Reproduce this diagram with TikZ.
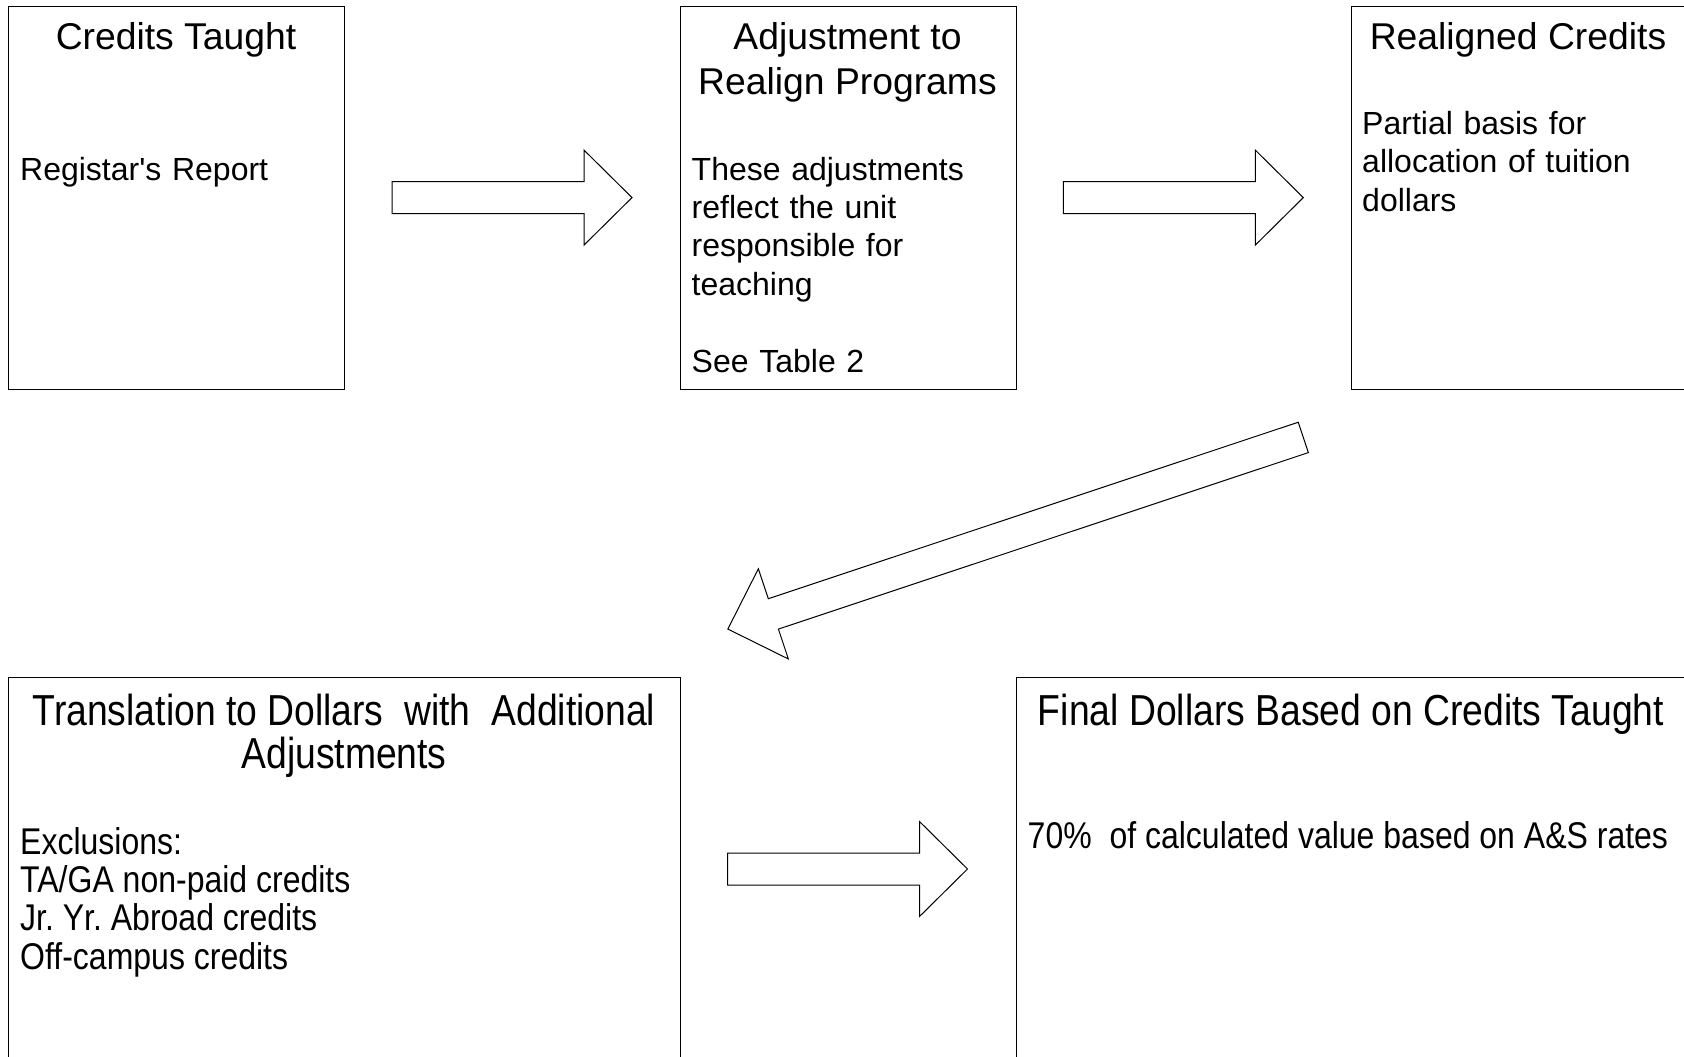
\documentclass[tikz,border=0pt]{standalone}
\usepackage{graphicx}
\usepackage{fontspec}
\setmainfont{Liberation Sans}[Ligatures=TeXOff]
\newcommand\titlesize{\fontsize{37.3pt}{44.8pt}\selectfont}
\newcommand\bodysize{\fontsize{32pt}{38.4pt}\selectfont}
\newcommand\tall[1]{\scalebox{1}[1.163]{#1}}
\newcommand\blockarrow[3]{%
  \begin{scope}[shift={(#1)}, rotate=#2]
    \draw[blockarr] (0,-16) -- (#3,-16) -- (#3,-47.5) -- ({#3+48},0) -- (#3,47.5) -- (#3,16) -- (0,16) -- cycle;
  \end{scope}}
\tikzset{
  box/.style={draw=black, line width=1pt, rectangle, anchor=north west, inner sep=0pt},
  blockarr/.style={draw=black, line width=1pt, fill=white, line join=miter},
  ttl/.style={inner sep=0pt, anchor=base, align=center, font=\titlesize},
  bdy/.style={inner sep=0pt, anchor=base west, align=left, font=\bodysize, text width=400pt},
  nttl/.style={inner sep=0pt, anchor=base, font=\titlesize},
  nbdy/.style={inner sep=0pt, anchor=base west, font=\bodysize}
}
\begin{document}
\begin{tikzpicture}[x=1pt, y=-1pt]
\useasboundingbox (0,0) rectangle (1684,1057);
\fill[white] (0,0) rectangle (1684,1057);

% boxes
\node[box, minimum width=336pt, minimum height=383pt] (b1) at (8,6) {};
\node[box, minimum width=336pt, minimum height=383pt] (b2) at (679.5,6) {};
\node[box, minimum width=336pt, minimum height=383pt] (b3) at (1351,6) {};
\node[box, minimum width=672pt, minimum height=383pt] (b4) at (8,677) {};
\node[box, minimum width=672pt, minimum height=383pt] (b5) at (1015.5,677) {};

% box 1
\node[ttl] (t1) at (176,50) {Credits Taught};
\node[bdy] (d1) at (20,180) {Registar's Report};

% box 2
\node[ttl] (t2a) at (847.5,50) {Adjustment to};
\node[ttl] (t2b) at (847.5,95) {Realign Programs};
\node[bdy] (d2) at (691.5,180) {These adjustments\\reflect the unit\\responsible for\\teaching\\[38.4pt]See Table 2};

% box 3
\node[ttl] (t3) at (1518,50) {Realigned Credits};
\node[bdy] (d3) at (1362,134.5) {Partial basis for\\allocation of tuition\\dollars};

% box 4
\node[nttl] (t4a) at (344,725) {\tall{Translation to Dollars\ \ with\ \ Additional}};
\node[nttl] (t4b) at (344,768) {\tall{Adjustments}};
\node[nbdy] (d4a) at (20,854) {\tall{Exclusions:}};
\node[nbdy] (d4b) at (20,892.4) {\tall{TA/GA non-paid credits}};
\node[nbdy] (d4c) at (20,930.8) {\tall{Jr.\ Yr.\ Abroad credits}};
\node[nbdy] (d4d) at (20,969.2) {\tall{Off-campus credits}};

% box 5
\node[nttl] (t5) at (1351,725) {\tall{Final Dollars Based on Credits Taught}};
\node[nbdy] (d5) at (1027.5,848) {\tall{70\%\ \ of calculated value based on A\&S rates}};

% block arrows (tails as named coordinates)
\coordinate (a1) at (392,197.6);
\coordinate (a2) at (1063.3,197.6);
\coordinate (a3) at (1303.3,437.4);
\coordinate (a4) at (727.5,869);
\blockarrow{a1}{0}{192}
\blockarrow{a2}{0}{192}
\blockarrow{a3}{198.42}{558.6}
\blockarrow{a4}{0}{192}
\end{tikzpicture}
\end{document}
